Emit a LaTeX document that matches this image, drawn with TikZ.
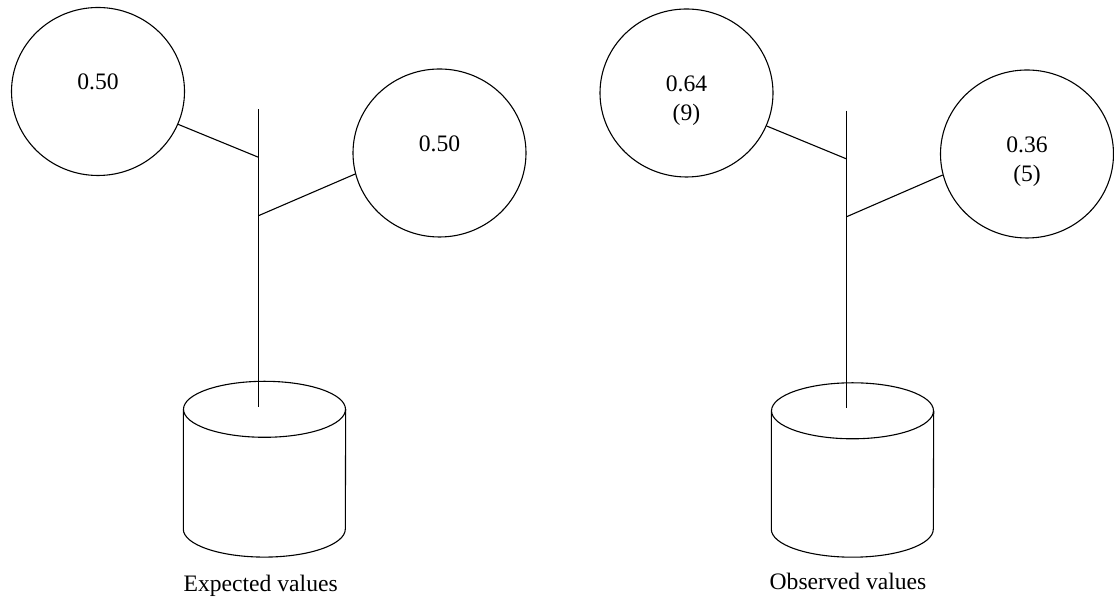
\documentclass[tikz,border=0pt]{standalone}
\usepackage{fontspec}
\setmainfont{Liberation Serif}
\usetikzlibrary{shapes.geometric,calc}

\begin{document}
\begin{tikzpicture}[
  x=1pt, y=1pt,
  font=\fontsize{23.6}{29}\selectfont,
  prob/.style={ellipse, draw=black, line width=1.1pt, minimum width=173pt,
    minimum height=168pt, inner sep=0pt},
  val/.style={anchor=north, align=center, inner sep=0pt, text=black},
  stem/.style={draw=black, line width=1.1pt},
  drum/.style={draw=black, line width=1.1pt},
  dbbox/.style={inner sep=0pt, minimum width=162pt},
  caption/.style={anchor=base, inner sep=0pt, text=black},
]
\useasboundingbox (0,0) rectangle (1114,601);

% ---- expected values ----
\node[prob] (expA) at (98,509.5) {};
\node[prob] (expB) at (439.5,448) {};
\node[val] (expAval) at ($(expA)+(0,17.5)$) {0.50};
\node[val] (expBval) at ($(expB)+(0,17.5)$) {0.50};

\node[dbbox, minimum height=119.4pt] (expDB) at (264.5,131.8) {};
\draw[drum] (expDB.north west) -- (expDB.south west)
  arc[start angle=180, end angle=360, x radius=81, y radius=28] -- (expDB.north east);
\draw[drum] (expDB.north) ellipse[x radius=81, y radius=28];

\coordinate (expTop) at (258.5,491.5);
\coordinate (expBase) at (258.5,193.7);
\coordinate (expJA) at (258.5,443.7);
\coordinate (expJB) at (258.5,385.3);

\draw[stem] (expTop) -- (expBase);
\draw[stem] (expA) -- (expJA);
\draw[stem] (expJB) -- (expB.194);

\node[caption] (expCap) at (260.7,9.3) {Expected values};

% ---- observed values ----
\node[prob] (obsA) at (686.5,508) {};
\node[prob] (obsB) at (1027,447) {};
\node[val] (obsAval) at ($(obsA)+(0,17.5)$) {0.64\\(9)};
\node[val] (obsBval) at ($(obsB)+(0,17.5)$) {0.36\\(5)};

\node[dbbox, minimum height=118pt] (obsDB) at (852.5,131) {};
\draw[drum] (obsDB.north west) -- (obsDB.south west)
  arc[start angle=180, end angle=360, x radius=81, y radius=28] -- (obsDB.north east);
\draw[drum] (obsDB.north) ellipse[x radius=81, y radius=28];

\coordinate (obsTop) at (846.7,490.3);
\coordinate (obsBase) at (846.7,192.7);
\coordinate (obsJA) at (846.7,442);
\coordinate (obsJB) at (846.7,384.3);

\draw[stem] (obsTop) -- (obsBase);
\draw[stem] (obsA) -- (obsJA);
\draw[stem] (obsJB) -- (obsB.194);

\node[caption] (obsCap) at (848,11.7) {Observed values};

\end{tikzpicture}
\end{document}
